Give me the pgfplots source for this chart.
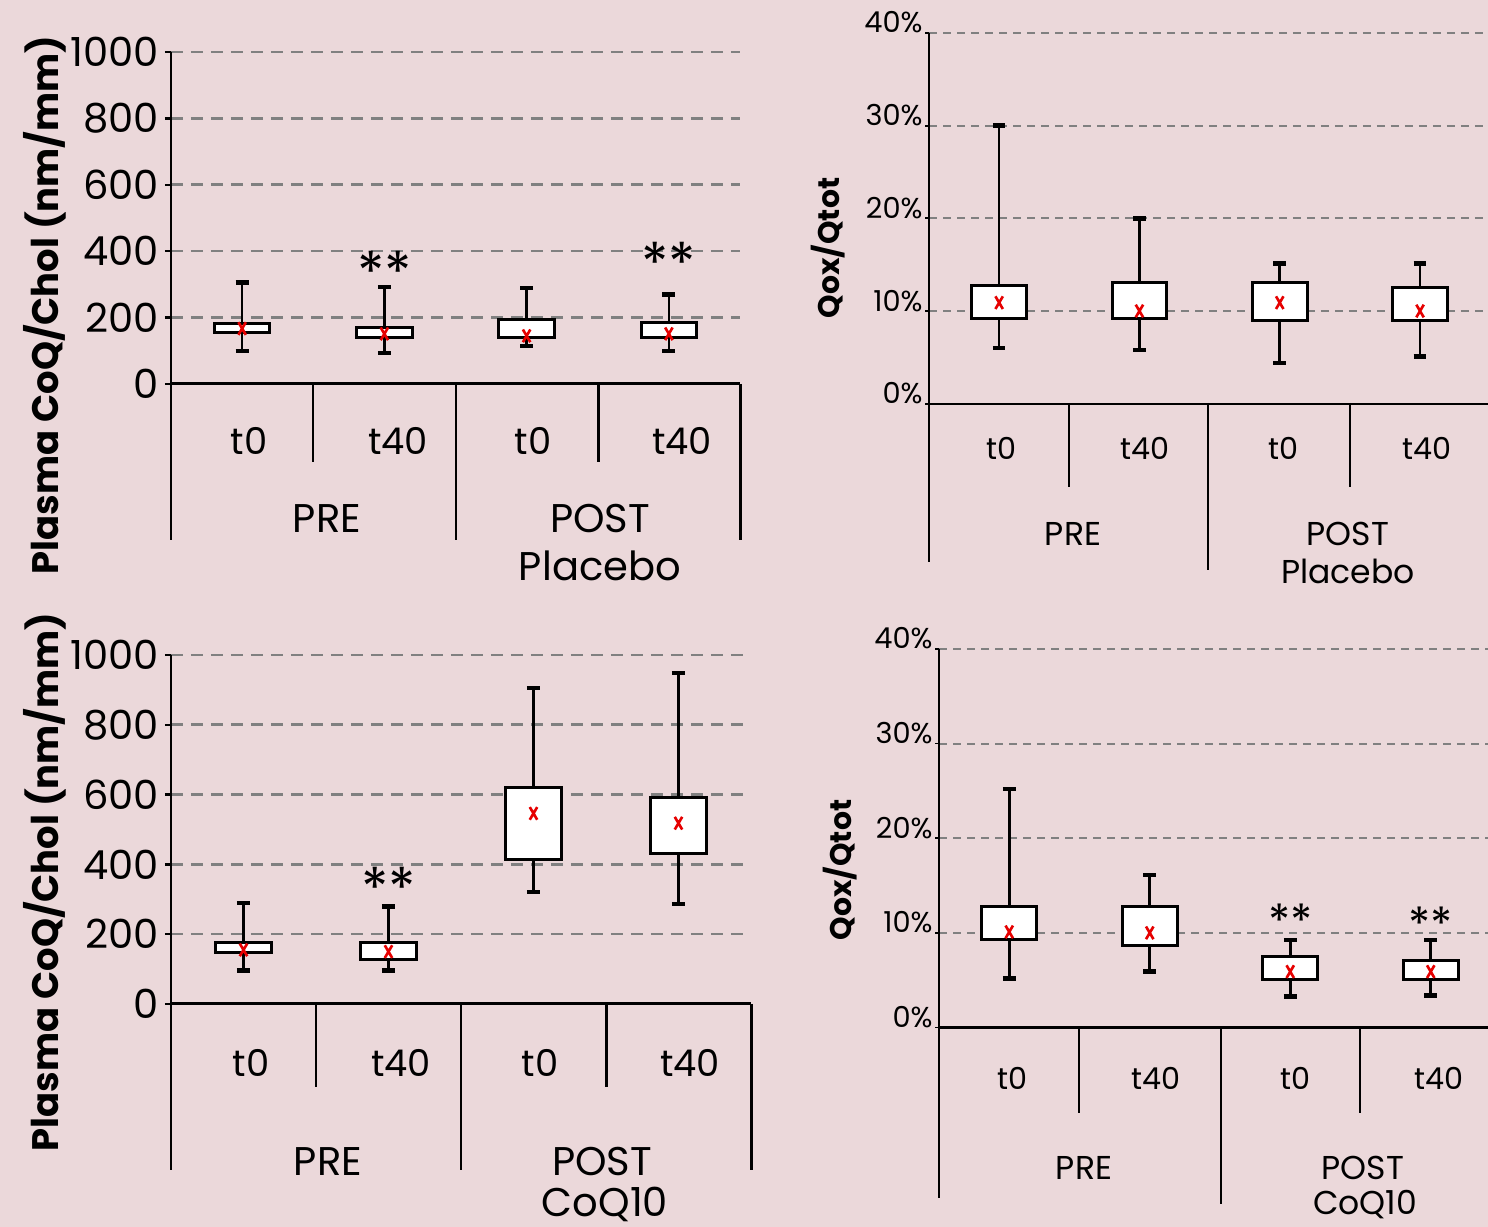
\documentclass[border=0pt]{standalone}
\usepackage{pgfplots}
\pgfplotsset{compat=1.18}
\usepgfplotslibrary{statistics}
\usepackage{fontspec}
\setmainfont{Poppins}
\definecolor{bg}{RGB}{235,216,218}
\definecolor{gridc}{RGB}{128,128,128}
\definecolor{mred}{RGB}{230,0,0}

\pgfplotsset{
  bx/.style={
    boxplot prepared,
    boxplot/draw direction=y,
    boxplot/box extend=0.39,
    boxplot/whisker extend=0.09,
    draw=black, fill=white, line width=0.85pt,
    boxplot/draw/median/.code={},
    boxplot/draw/lower whisker/.code={%
      \draw[line width=0.75pt,fill=none] (boxplot box cs:\pgfplotsboxplotvalue{lower quartile},0.5) -- (boxplot box cs:\pgfplotsboxplotvalue{lower whisker},0.5);
      \draw[line width=1.3pt,fill=none] (boxplot whisker cs:\pgfplotsboxplotvalue{lower whisker},0) -- (boxplot whisker cs:\pgfplotsboxplotvalue{lower whisker},1);
    },
    boxplot/draw/upper whisker/.code={%
      \draw[line width=0.75pt,fill=none] (boxplot box cs:\pgfplotsboxplotvalue{upper quartile},0.5) -- (boxplot box cs:\pgfplotsboxplotvalue{upper whisker},0.5);
      \draw[line width=1.3pt,fill=none] (boxplot whisker cs:\pgfplotsboxplotvalue{upper whisker},0) -- (boxplot whisker cs:\pgfplotsboxplotvalue{upper whisker},1);
    },
  },
  mn/.style={only marks, mark=x, mark size=1.5pt, color=mred, mark options={line width=0.75pt, yscale=1.7}},
  pan/.style={
    scale only axis, anchor=south west,
    xmin=0, xmax=4, ymin=0,
    axis x line=bottom, axis y line=left,
    axis line style={-, line width=0.85pt, black},
    xtick=\empty,
    tick align=outside,
    ytick style={line width=0.7pt, black},
    major tick length=0.6mm,
    ymajorgrids,
    grid style={gridc, line width=0.75pt, dash pattern=on 1.2mm off 0.8mm},
    clip=false,
    yticklabel style={font=\fontsize{11.4}{12}\selectfont, text=black, inner xsep=1.5pt},
  },
  panr/.style={
    pan,
    axis line style={-, line width=0.6pt, black},
    ytick style={line width=0.5pt, black},
    major tick length=0.4mm,
    grid style={gridc, line width=0.55pt, dash pattern=on 0.8mm off 0.6mm},
    ymax=40, ytick={0,10,20,30,40}, yticklabels={0\%,10\%,20\%,30\%,40\%},
    yticklabel style={font=\fontsize{8.2}{9}\selectfont, text=black, anchor=base east, inner xsep=0.5pt},
  },
}

\begin{document}
\begin{tikzpicture}
\fill[bg] (0,0) rectangle (148.8mm,122.7mm);
\useasboundingbox (0,0) rectangle (148.8mm,122.7mm);
\clip (0,0) rectangle (148.8mm,122.7mm);

% ---------- Panel 1: Placebo CoQ/Chol ----------
\begin{axis}[pan, at={(17.1mm,84.3mm)}, width=56.9mm, height=33.2mm,
  ymax=1000, ytick={0,200,400,600,800,1000}, yticklabels={0,200,400,600,800,1000}]
\addplot[bx, boxplot prepared={draw position=0.5, lower whisker=99, lower quartile=154, median=167, upper quartile=181, upper whisker=306}] coordinates {};
\addplot[bx, boxplot prepared={draw position=1.5, lower whisker=93, lower quartile=139, median=151, upper quartile=171, upper whisker=292}] coordinates {};
\addplot[bx, boxplot prepared={draw position=2.5, lower whisker=114, lower quartile=139, median=145, upper quartile=193, upper whisker=289}] coordinates {};
\addplot[bx, boxplot prepared={draw position=3.5, lower whisker=99, lower quartile=139, median=151, upper quartile=186, upper whisker=270}] coordinates {};
\addplot[mn] coordinates {(0.5,167) (1.5,151) (2.5,145) (3.5,151)};
\node[font=\fontsize{16}{16}\selectfont] at (axis cs:1.5,337) {**};
\node[font=\fontsize{16}{16}\selectfont] at (axis cs:3.5,365) {**};
\end{axis}

% ---------- Panel 2: Placebo Qox/Qtot ----------
\begin{axis}[panr, at={(92.9mm,82.33mm)}, width=56.12mm, height=37.07mm]
\addplot[bx, boxplot prepared={draw position=0.5, lower whisker=6.0, lower quartile=9.2, median=10.9, upper quartile=12.7, upper whisker=30.0}] coordinates {};
\addplot[bx, boxplot prepared={draw position=1.5, lower whisker=5.8, lower quartile=9.2, median=10.0, upper quartile=13.1, upper whisker=20.0}] coordinates {};
\addplot[bx, boxplot prepared={draw position=2.5, lower whisker=4.4, lower quartile=9.0, median=10.9, upper quartile=13.1, upper whisker=15.1}] coordinates {};
\addplot[bx, boxplot prepared={draw position=3.5, lower whisker=5.1, lower quartile=9.0, median=10.0, upper quartile=12.5, upper whisker=15.1}] coordinates {};
\addplot[mn] coordinates {(0.5,10.9) (1.5,10.0) (2.5,10.9) (3.5,10.0)};
\end{axis}

% ---------- Panel 3: CoQ10 CoQ/Chol ----------
\begin{axis}[pan, at={(17.1mm,22.3mm)}, width=58.0mm, height=34.9mm,
  ymax=1000, ytick={0,200,400,600,800,1000}, yticklabels={0,200,400,600,800,1000}]
\addplot[bx, boxplot prepared={draw position=0.5, lower whisker=96, lower quartile=148, median=155, upper quartile=177, upper whisker=289}] coordinates {};
\addplot[bx, boxplot prepared={draw position=1.5, lower whisker=96, lower quartile=127, median=150, upper quartile=177, upper whisker=280}] coordinates {};
\addplot[bx, boxplot prepared={draw position=2.5, lower whisker=321, lower quartile=415, median=546, upper quartile=621, upper whisker=905}] coordinates {};
\addplot[bx, boxplot prepared={draw position=3.5, lower whisker=286, lower quartile=430, median=518, upper quartile=593, upper whisker=948}] coordinates {};
\addplot[mn] coordinates {(0.5,155) (1.5,150) (2.5,546) (3.5,518)};
\node[font=\fontsize{16}{16}\selectfont] at (axis cs:1.5,334) {**};
\end{axis}

% ---------- Panel 4: CoQ10 Qox/Qtot ----------
\begin{axis}[panr, at={(93.9mm,19.95mm)}, width=56.2mm, height=37.85mm]
\addplot[bx, boxplot prepared={draw position=0.5, lower whisker=5.2, lower quartile=9.3, median=10.1, upper quartile=12.8, upper whisker=25.2}] coordinates {};
\addplot[bx, boxplot prepared={draw position=1.5, lower whisker=5.9, lower quartile=8.7, median=10.0, upper quartile=12.8, upper whisker=16.1}] coordinates {};
\addplot[bx, boxplot prepared={draw position=2.5, lower whisker=3.3, lower quartile=5.1, median=5.9, upper quartile=7.5, upper whisker=9.25}] coordinates {};
\addplot[bx, boxplot prepared={draw position=3.5, lower whisker=3.4, lower quartile=5.1, median=5.9, upper quartile=7.1, upper whisker=9.25}] coordinates {};
\addplot[mn] coordinates {(0.5,10.1) (1.5,10.0) (2.5,5.9) (3.5,5.9)};
\node[font=\fontsize{13}{13}\selectfont] at (axis cs:2.5,11.3) {**};
\node[font=\fontsize{13}{13}\selectfont] at (axis cs:3.5,11.0) {**};
\end{axis}

\begin{scope}[x=0.1mm, y=-0.1mm, yshift=122.7mm]
  % dividers panel 1
  \draw[line width=0.85pt] (171,384) -- (171,540) (313,384) -- (313,462) (456,384) -- (456,540) (598,384) -- (598,462) (740,384) -- (740,540);
  % dividers panel 2
  \draw[line width=0.6pt] (929,403) -- (929,562) (1069,403) -- (1069,487) (1208,403) -- (1208,570) (1350,403) -- (1350,487);
  % dividers panel 3
  \draw[line width=0.85pt] (171,1004) -- (171,1170) (316,1004) -- (316,1087) (461,1004) -- (461,1170) (606,1004) -- (606,1087) (751,1004) -- (751,1170);
  % dividers panel 4
  \draw[line width=0.6pt] (939,1027) -- (939,1198) (1079,1027) -- (1079,1113) (1221,1027) -- (1221,1204) (1360,1027) -- (1360,1113);

  % y labels
  \node[rotate=90, font=\bfseries\fontsize{10.5}{11}\selectfont] at (45,305) {Plasma CoQ/Chol (nm/mm)};
  \node[rotate=90, font=\bfseries\fontsize{10.5}{11}\selectfont] at (45,882) {Plasma CoQ/Chol (nm/mm)};
  \node[rotate=90, font=\bfseries\fontsize{8.5}{9}\selectfont] at (828,248) {Qox/Qtot};
  \node[rotate=90, font=\bfseries\fontsize{8.5}{9}\selectfont] at (840,870) {Qox/Qtot};

  % category labels, left panels
  \begin{scope}[font=\fontsize{10.5}{11}\selectfont]
    \node at (249,441) {t0}; \node at (398,441) {t40}; \node at (533,441) {t0}; \node at (682,441) {t40};
    \node at (251,1063) {t0}; \node at (401,1063) {t40}; \node at (540,1063) {t0}; \node at (690,1063) {t40};
  \end{scope}
  \begin{scope}[font=\fontsize{11.4}{12}\selectfont]
    \node at (327,519) {PRE}; \node at (600,519) {POST}; \node at (600,566) {Placebo};
    \node at (328,1162) {PRE}; \node at (602,1162) {POST}; \node at (605,1204) {CoQ10};
  \end{scope}
  % category labels, right panels
  \begin{scope}[font=\fontsize{8.6}{9}\selectfont]
    \node at (1001,448) {t0}; \node at (1145,448) {t40}; \node at (1283,448) {t0}; \node at (1427,448) {t40};
    \node at (1012,1078) {t0}; \node at (1156,1078) {t40}; \node at (1295,1078) {t0}; \node at (1439,1078) {t40};
  \end{scope}
  \begin{scope}[font=\fontsize{9.4}{10}\selectfont]
    \node at (1073,534) {PRE}; \node at (1348,534) {POST}; \node at (1348,571) {Placebo};
    \node at (1084,1168) {PRE}; \node at (1363,1168) {POST}; \node at (1365,1205) {CoQ10};
  \end{scope}
\end{scope}
\end{tikzpicture}
\end{document}
